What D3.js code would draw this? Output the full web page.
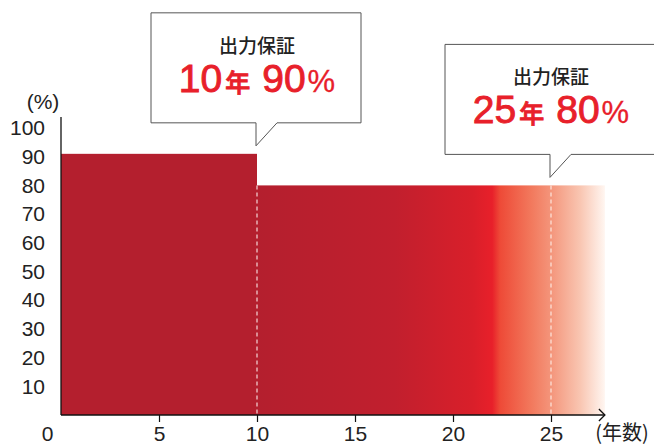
<!DOCTYPE html>
<html>
<head>
<meta charset="utf-8">
<script src="https://cdn.jsdelivr.net/npm/d3@7"></script>
<style>
  html, body { margin: 0; padding: 0; background: #fff; }
  svg { display: block; }
</style>
</head>
<body>
<div id="chart"></div>
<script>
// Output guarantee steps: [start year, end year, percent]
const segStart = [0, 10]
const segEnd = [10, 27.75]
const segValue = [91, 80]

// Callout milestones
const guaranteeYears = [10, 25]
const guaranteePcts = [90, 80]
const guaranteeTitle = '出力保証'

const yTicks = [10, 20, 30, 40, 50, 60, 70, 80, 90, 100]
const xTicks = [0, 5, 10, 15, 20, 25]

// gradient for the 10-year+ segment: [year, colour]
const fadeYears = [10, 17, 21, 22, 22.4, 24, 25, 26.5, 27.75]
const fadeColors = ['#B41F2E', '#C11F2E', '#D91F2A', '#E8202A', '#EE4A37', '#F2795D', '#F4957B', '#F9C6B2', '#FFF6F1']

const W = 654, H = 448
const LATIN = '"Liberation Sans", Arial, Helvetica, sans-serif'
const CJK = '"Noto Sans CJK JP", "Noto Sans", sans-serif'
const RED = '#E8202A'

const x = d3.scaleLinear().domain([0, 25]).range([61, 551])
const y = d3.scaleLinear().domain([0, 100]).range([415, 128])

const svg = d3.select('#chart').append('svg')
  .attr('width', W).attr('height', H)
  .attr('viewBox', `0 0 ${W} ${H}`)

const defs = svg.append('defs')
const grad = defs.append('linearGradient')
  .attr('id', 'fade')
  .attr('gradientUnits', 'userSpaceOnUse')
  .attr('x1', x(segStart[1])).attr('x2', x(segEnd[1]))
  .attr('y1', 0).attr('y2', 0)
fadeYears.forEach((yr, i) => {
  grad.append('stop')
    .attr('offset', (yr - segStart[1]) / (segEnd[1] - segStart[1]))
    .attr('stop-color', fadeColors[i])
})

// Bars
const segs = segStart.map((s, i) => ({ s, e: segEnd[i], v: segValue[i] }))
svg.append('g').selectAll('rect')
  .data(segs)
  .join('rect')
  .attr('x', d => x(d.s))
  .attr('y', d => y(d.v))
  .attr('width', d => x(d.e) - x(d.s))
  .attr('height', d => y(0) - y(d.v))
  .attr('fill', (d, i) => i === 0 ? '#B41F2E' : 'url(#fade)')

// Dashed guide lines at milestone years
svg.append('g').selectAll('line')
  .data(guaranteeYears)
  .join('line')
  .attr('x1', d => x(d)).attr('x2', d => x(d))
  .attr('y1', y(segValue[1])).attr('y2', y(0))
  .attr('stroke', (d, i) => i === 0 ? '#F3D6D8' : '#FCE6DE')
  .attr('stroke-width', 1.2)
  .attr('stroke-dasharray', '4,3')

// Y axis labels
svg.append('g')
  .attr('transform', `translate(${x(0)},0)`)
  .call(d3.axisLeft(y).tickValues(yTicks).tickSize(0).tickPadding(16))
  .call(g => {
    g.select('.domain').remove()
    g.selectAll('.tick text')
      .attr('fill', '#222').attr('font-size', '21px')
      .attr('font-family', LATIN)
  })

// Y axis line
svg.append('line')
  .attr('x1', x(0)).attr('x2', x(0))
  .attr('y1', 117).attr('y2', y(0))
  .attr('stroke', '#111').attr('stroke-width', 1.3)

svg.append('text')
  .attr('x', 43).attr('y', 109)
  .attr('text-anchor', 'middle')
  .attr('fill', '#222').attr('font-size', '21px')
  .attr('font-family', LATIN)
  .text('(%)')

// X axis
svg.append('g')
  .attr('transform', `translate(0,${y(0)})`)
  .call(d3.axisBottom(x).tickValues(xTicks).tickSize(7).tickPadding(4))
  .call(g => {
    g.select('.domain').remove()
    g.selectAll('.tick line').attr('stroke', '#111').attr('stroke-width', 1.2)
      .filter(d => d === 0).remove()
    g.selectAll('.tick text')
      .attr('fill', '#222').attr('font-size', '21px')
      .attr('font-family', LATIN)
      .attr('dx', d => d === 0 ? -14 : 0)
  })

const xEnd = x(segEnd[1])
svg.append('line')
  .attr('x1', x(0)).attr('x2', xEnd)
  .attr('y1', y(0)).attr('y2', y(0))
  .attr('stroke', '#111').attr('stroke-width', 1.3)
svg.append('path')
  .attr('d', `M${xEnd - 6},${y(0) - 6} L${xEnd},${y(0)} L${xEnd - 6},${y(0) + 6}`)
  .attr('fill', 'none').attr('stroke', '#111').attr('stroke-width', 1.3)

svg.append('text')
  .attr('x', 622).attr('y', 440)
  .attr('text-anchor', 'middle')
  .attr('fill', '#222').attr('font-size', '20px')
  .attr('font-family', CJK)
  .text('(年数)')

// Callouts
guaranteeYears.forEach((yr, i) => {
  const tx = x(yr) - 1
  const ty = y(i === 0 ? segValue[0] : segValue[1]) - 8
  const bottom = ty - 23
  const top = bottom - 110
  const left = tx - 105
  const right = tx + 105
  const g = svg.append('g')
  g.append('path')
    .attr('d', `M${left},${top} H${right} V${bottom} H${tx + 21} L${tx},${ty} V${bottom} H${left} Z`)
    .attr('fill', '#fff').attr('stroke', '#555').attr('stroke-width', 1)

  g.append('text')
    .attr('x', tx + 1).attr('y', top + 40)
    .attr('text-anchor', 'middle')
    .attr('fill', '#222').attr('font-size', '19px').attr('font-weight', 500)
    .attr('font-family', CJK)
    .text(guaranteeTitle)

  const t = g.append('text')
    .attr('x', tx + 1).attr('y', top + 79)
    .attr('text-anchor', 'middle')
    .attr('fill', RED)
    .attr('stroke', RED).attr('stroke-width', 0.9)
  t.append('tspan').attr('font-family', LATIN).attr('font-size', '39px')
    .text(String(yr))
  t.append('tspan').attr('font-family', CJK).attr('font-size', '25px').attr('font-weight', 500)
    .attr('dx', 3)
    .text('年')
  t.append('tspan').attr('font-family', LATIN).attr('font-size', '39px')
    .attr('dx', 12)
    .text(String(guaranteePcts[i]))
  t.append('tspan').attr('font-family', LATIN).attr('font-size', '31px')
    .attr('stroke-width', 0.3)
    .attr('dx', 2)
    .text('%')
})
</script>
</body>
</html>
